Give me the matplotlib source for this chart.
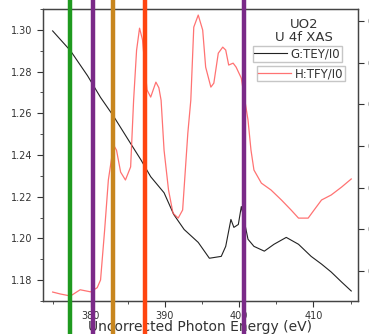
import numpy as np
import matplotlib
matplotlib.use("Agg")
import matplotlib.pyplot as plt

# TEY / I0 (left axis)
tey_e = [374.9, 377.3, 379.6, 381.35, 383.1, 385.1, 386.8, 388.1, 389.9, 391.2,
         392.6, 394.5, 396.0, 397.6, 398.2, 398.9, 399.3, 399.9, 400.3, 401.2,
         402.0, 403.4, 404.7, 406.35, 408.0, 409.7, 411.1, 412.4, 413.8, 415.1]
tey_v = [1.2995, 1.290, 1.278, 1.2676, 1.2586, 1.2472, 1.2376, 1.2296, 1.2219, 1.2115,
         1.2043, 1.1981, 1.1905, 1.1914, 1.1962, 1.2091, 1.2053, 1.2067, 1.2153, 1.1996,
         1.1962, 1.1939, 1.1972, 1.2005, 1.1972, 1.1914, 1.1877, 1.1839, 1.1791, 1.1748]

# TFY / I0 (right axis)
tfy_e = [374.9, 375.9, 377.3, 378.6, 380.0, 380.9, 381.35, 381.9, 382.4, 383.1,
         383.5, 384.05, 384.7, 385.4, 385.8, 386.2, 386.6, 387.0, 387.6, 388.1,
         388.8, 389.2, 389.5, 389.9, 390.5, 391.1, 391.8, 392.4, 393.1, 393.5,
         393.9, 394.5, 395.1, 395.5, 396.2, 396.6, 397.2, 397.8, 398.2, 398.6,
         399.2, 399.6, 400.3, 401.2, 401.6, 402.0, 403.0, 404.3, 405.7, 407.0,
         408.0, 409.3, 410.1, 411.1, 412.4, 413.8, 415.1]
tfy_v = [0.1699, 0.169, 0.168, 0.171, 0.170, 0.172, 0.1757, 0.1997, 0.2237, 0.2405,
         0.238, 0.2275, 0.2237, 0.230, 0.262, 0.286, 0.2966, 0.291, 0.267, 0.2635,
         0.2707, 0.268, 0.262, 0.238, 0.2189, 0.2078, 0.2054, 0.2093, 0.2462, 0.262,
         0.2971, 0.3029, 0.2957, 0.2779, 0.2683, 0.2702, 0.2846, 0.2875, 0.2861, 0.2789,
         0.2798, 0.2779, 0.2726, 0.2525, 0.2381, 0.2285, 0.2222, 0.2189, 0.2141, 0.2093,
         0.2054, 0.2054, 0.2093, 0.2141, 0.2165, 0.2203, 0.2242]

# marker energies (vertical lines)
mark_e = [377.3, 380.3, 383.0, 387.3, 400.7]
mark_c = ["#1f9a1f", "#7a2a88", "#c8861e", "#ff4510", "#7a2a88"]

grey = "#333333"
plt.rcParams["font.family"] = "DejaVu Sans"

fig = plt.figure(figsize=(3.69, 3.34), dpi=100)
ax = fig.add_axes([0.1165, 0.0988, 0.8535, 0.8742])
ax2 = ax.twinx()

ax.plot(tey_e, tey_v, color="#222222", lw=0.8, label="G:TEY/I0")
ax2.plot(tfy_e, tfy_v, color="#ff5a5a", lw=0.9, alpha=0.85, label="H:TFY/I0")

ax.set_xlim(373.6, 416)
ax.set_ylim(1.17, 1.3095)
ax2.set_ylim(0.1656, 0.3058)

ax.set_xticks([380, 390, 400, 410])
ax.set_xticks(np.arange(375, 416, 5), minor=True)
ax.set_yticks(np.arange(1.18, 1.301, 0.02))
ax.set_yticks(np.arange(1.17, 1.31, 0.01), minor=True)
ax2.set_yticks(np.arange(0.18, 0.301, 0.02))
ax.yaxis.set_major_formatter(matplotlib.ticker.FormatStrFormatter("%.2f"))
ax2.yaxis.set_major_formatter(matplotlib.ticker.FormatStrFormatter("%.2f"))

for a in (ax, ax2):
    a.tick_params(which="both", direction="out", colors=grey, labelsize=7,
                  top=False)
    a.tick_params(which="major", length=4, width=0.8)
    a.tick_params(which="minor", length=2.5, width=0.6)
    for s in a.spines.values():
        s.set_color("#444444")
        s.set_linewidth(0.9)
ax2.tick_params(axis="y", pad=3)

ax.set_xlabel("Uncorrected Photon Energy (eV)", fontsize=10, color=grey,
              labelpad=-1)

ax.text(0.83, 0.97, "UO2\nU 4f XAS", transform=ax.transAxes, ha="center",
        va="top", fontsize=9.5, color=grey, linespacing=1.0)

leg_kw = dict(fontsize=8.5, frameon=True, fancybox=False, edgecolor="#b8b8b8",
              borderpad=0.1, handlelength=2.8, handletextpad=0.3,
              borderaxespad=0, labelcolor=grey)
ax.legend(loc="upper left", bbox_to_anchor=(0.667, 0.872), **leg_kw)
ax2.legend(loc="upper left", bbox_to_anchor=(0.680, 0.805), **leg_kw)

for e, c in zip(mark_e, mark_c):
    ax2.axvline(e, ymin=-0.15, ymax=1.05, color=c, lw=3.2, clip_on=False,
                zorder=10)

fig.savefig("out.png", dpi=100)
